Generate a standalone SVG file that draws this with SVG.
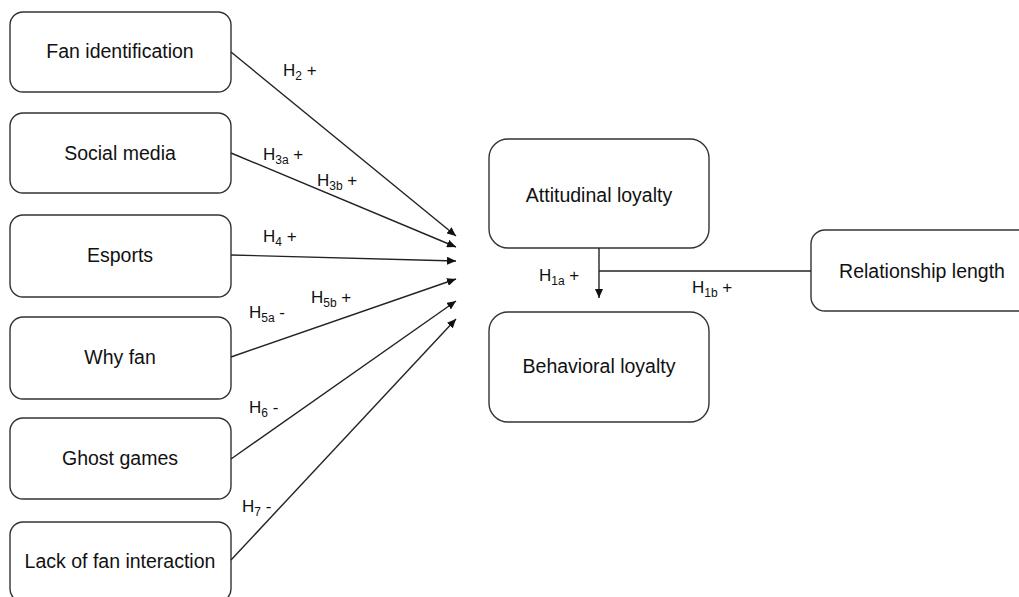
<svg xmlns="http://www.w3.org/2000/svg" width="1019" height="597" viewBox="0 0 1019 597">
<style>
.box{fill:#fff;stroke:#333;stroke-width:1.4}
.t{font-family:"Liberation Sans",Arial,sans-serif;font-size:19.5px;fill:#111;text-anchor:middle}
.l{font-family:"Liberation Sans",Arial,sans-serif;font-size:17px;fill:#111}
.s{font-size:12px}
.c{stroke:#222;stroke-width:1.4;fill:none}
</style>
<defs>
<marker id="ah" markerUnits="userSpaceOnUse" markerWidth="10" markerHeight="8" refX="9" refY="4" orient="auto">
<path d="M0,0 L9,4 L0,8 z" fill="#111"/>
</marker>
</defs>
<rect width="1019" height="597" fill="#fff"/>
<g id="fan-identification"><rect class="box" x="10" y="12" width="221" height="80" rx="13"/><text class="t" x="120" y="58">Fan identification</text></g>
<g id="social-media"><rect class="box" x="10" y="113" width="221" height="80" rx="13"/><text class="t" x="120" y="160">Social media</text></g>
<g id="esports"><rect class="box" x="10" y="215" width="221" height="82" rx="13"/><text class="t" x="120" y="262">Esports</text></g>
<g id="why-fan"><rect class="box" x="10" y="317" width="221" height="82" rx="13"/><text class="t" x="120" y="364">Why fan</text></g>
<g id="ghost-games"><rect class="box" x="10" y="418" width="221" height="81" rx="13"/><text class="t" x="120" y="465">Ghost games</text></g>
<g id="lack-of-fan-interaction"><rect class="box" x="10" y="522" width="221" height="80" rx="13"/><text class="t" x="120" y="568">Lack of fan interaction</text></g>
<g id="attitudinal-loyalty"><rect class="box" x="489" y="139" width="220" height="109" rx="19"/><text class="t" x="599" y="202">Attitudinal loyalty</text></g>
<g id="behavioral-loyalty"><rect class="box" x="489" y="312" width="220" height="110" rx="19"/><text class="t" x="599" y="373">Behavioral loyalty</text></g>
<g id="relationship-length"><rect class="box" x="811" y="230" width="222" height="81" rx="14"/><text class="t" x="922" y="278">Relationship length</text></g>
<g id="connectors">
<line class="c" x1="231" y1="52" x2="456" y2="236" marker-end="url(#ah)"/>
<line class="c" x1="231" y1="153" x2="456" y2="247" marker-end="url(#ah)"/>
<line class="c" x1="231" y1="255" x2="456" y2="261" marker-end="url(#ah)"/>
<line class="c" x1="231" y1="357" x2="456" y2="279" marker-end="url(#ah)"/>
<line class="c" x1="231" y1="459" x2="456" y2="301" marker-end="url(#ah)"/>
<line class="c" x1="231" y1="560" x2="456" y2="319" marker-end="url(#ah)"/>
<line class="c" x1="599" y1="248" x2="599" y2="298" marker-end="url(#ah)"/>
<line class="c" x1="599" y1="271" x2="811" y2="271"/>
</g>
<g id="labels">
<text class="l" x="283" y="76">H<tspan class="s" dy="4">2</tspan><tspan dy="-4"> +</tspan></text>
<text class="l" x="263" y="160">H<tspan class="s" dy="4">3a</tspan><tspan dy="-4"> +</tspan></text>
<text class="l" x="317" y="186">H<tspan class="s" dy="4">3b</tspan><tspan dy="-4"> +</tspan></text>
<text class="l" x="263" y="242">H<tspan class="s" dy="4">4</tspan><tspan dy="-4"> +</tspan></text>
<text class="l" x="249" y="318">H<tspan class="s" dy="4">5a</tspan><tspan dy="-4"> -</tspan></text>
<text class="l" x="311" y="303">H<tspan class="s" dy="4">5b</tspan><tspan dy="-4"> +</tspan></text>
<text class="l" x="249" y="413">H<tspan class="s" dy="4">6</tspan><tspan dy="-4"> -</tspan></text>
<text class="l" x="242" y="512">H<tspan class="s" dy="4">7</tspan><tspan dy="-4"> -</tspan></text>
<text class="l" x="539" y="281">H<tspan class="s" dy="4">1a</tspan><tspan dy="-4"> +</tspan></text>
<text class="l" x="692" y="293">H<tspan class="s" dy="4">1b</tspan><tspan dy="-4"> +</tspan></text>
</g>
</svg>
